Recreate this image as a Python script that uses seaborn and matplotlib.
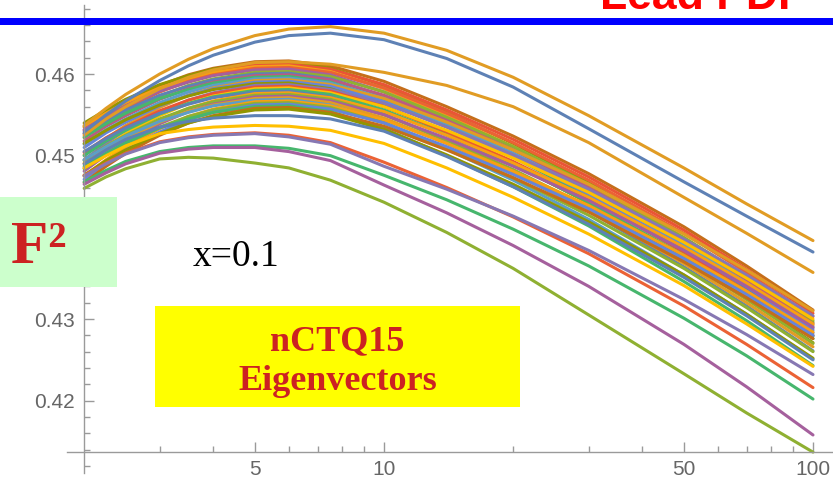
import numpy as np
import pandas as pd
import matplotlib
matplotlib.use("Agg")
import matplotlib.pyplot as plt
import seaborn as sns
from matplotlib.patches import Rectangle
from matplotlib.ticker import FixedLocator, NullFormatter

# ---------------- data ----------------
Q_NODES = [2, 2.25, 2.5, 3, 3.5, 4, 5, 6, 7.5, 10, 14, 20, 30, 50, 70, 100]

top_orange   = [0.4537, 0.4558, 0.4575, 0.4600, 0.4618, 0.4631, 0.4647, 0.4655, 0.4658, 0.4650, 0.4629, 0.4596, 0.4549, 0.4485, 0.4441, 0.4396]
top_blue     = [0.4529, 0.4550, 0.4567, 0.4592, 0.4610, 0.4623, 0.4639, 0.4647, 0.4650, 0.4642, 0.4619, 0.4584, 0.4533, 0.4468, 0.4426, 0.4382]
third_orange = [0.4525, 0.4545, 0.4560, 0.4582, 0.4596, 0.4605, 0.4614, 0.4615, 0.4612, 0.4602, 0.4586, 0.4560, 0.4516, 0.4449, 0.4405, 0.4357]

b01 = [0.4535, 0.4553, 0.4566, 0.4586, 0.4599, 0.4607, 0.4615, 0.4616, 0.4610, 0.4591, 0.4560, 0.4524, 0.4478, 0.4413, 0.4365, 0.4311]
b02 = [0.4540, 0.4556, 0.4569, 0.4587, 0.4598, 0.4606, 0.4613, 0.4614, 0.4607, 0.4586, 0.4553, 0.4515, 0.4467, 0.4399, 0.4351, 0.4296]
b03 = [0.4531, 0.4549, 0.4562, 0.4582, 0.4595, 0.4603, 0.4611, 0.4612, 0.4606, 0.4587, 0.4556, 0.4520, 0.4474, 0.4409, 0.4361, 0.4307]
b04 = [0.4536, 0.4552, 0.4565, 0.4583, 0.4594, 0.4602, 0.4609, 0.4610, 0.4603, 0.4582, 0.4549, 0.4511, 0.4463, 0.4395, 0.4347, 0.4292]
b05 = [0.4527, 0.4545, 0.4558, 0.4578, 0.4591, 0.4599, 0.4607, 0.4608, 0.4602, 0.4583, 0.4552, 0.4516, 0.4470, 0.4405, 0.4357, 0.4303]
b06 = [0.4532, 0.4548, 0.4561, 0.4579, 0.4590, 0.4598, 0.4605, 0.4606, 0.4599, 0.4578, 0.4545, 0.4507, 0.4459, 0.4391, 0.4343, 0.4288]
b07 = [0.4522, 0.4540, 0.4553, 0.4573, 0.4586, 0.4594, 0.4602, 0.4603, 0.4597, 0.4578, 0.4547, 0.4511, 0.4465, 0.4400, 0.4352, 0.4298]
b08 = [0.4527, 0.4543, 0.4556, 0.4574, 0.4585, 0.4593, 0.4600, 0.4601, 0.4594, 0.4573, 0.4540, 0.4502, 0.4454, 0.4386, 0.4338, 0.4283]
b09 = [0.4518, 0.4536, 0.4549, 0.4569, 0.4582, 0.4590, 0.4598, 0.4599, 0.4593, 0.4574, 0.4543, 0.4507, 0.4461, 0.4396, 0.4348, 0.4294]
b10 = [0.4523, 0.4539, 0.4552, 0.4570, 0.4581, 0.4589, 0.4596, 0.4597, 0.4590, 0.4569, 0.4536, 0.4498, 0.4450, 0.4382, 0.4334, 0.4279]
b11 = [0.4514, 0.4532, 0.4545, 0.4565, 0.4578, 0.4586, 0.4594, 0.4595, 0.4589, 0.4570, 0.4539, 0.4503, 0.4457, 0.4392, 0.4344, 0.4290]
b12 = [0.4501, 0.4521, 0.4537, 0.4559, 0.4574, 0.4583, 0.4592, 0.4593, 0.4587, 0.4570, 0.4541, 0.4507, 0.4465, 0.4404, 0.4360, 0.4310]
b13 = [0.4510, 0.4528, 0.4541, 0.4561, 0.4574, 0.4582, 0.4590, 0.4591, 0.4585, 0.4566, 0.4535, 0.4499, 0.4453, 0.4388, 0.4340, 0.4286]
b14 = [0.4515, 0.4531, 0.4544, 0.4562, 0.4573, 0.4581, 0.4588, 0.4589, 0.4582, 0.4561, 0.4528, 0.4490, 0.4442, 0.4374, 0.4326, 0.4271]
b15 = [0.4495, 0.4515, 0.4531, 0.4553, 0.4568, 0.4577, 0.4586, 0.4587, 0.4581, 0.4564, 0.4535, 0.4501, 0.4459, 0.4398, 0.4354, 0.4304]
b16 = [0.4504, 0.4522, 0.4535, 0.4555, 0.4568, 0.4576, 0.4584, 0.4585, 0.4579, 0.4560, 0.4529, 0.4493, 0.4447, 0.4382, 0.4334, 0.4280]
b17 = [0.4491, 0.4511, 0.4527, 0.4549, 0.4564, 0.4573, 0.4582, 0.4583, 0.4577, 0.4560, 0.4531, 0.4497, 0.4455, 0.4394, 0.4350, 0.4300]
b18 = [0.4500, 0.4518, 0.4531, 0.4551, 0.4564, 0.4572, 0.4580, 0.4581, 0.4575, 0.4556, 0.4525, 0.4489, 0.4443, 0.4378, 0.4330, 0.4276]
b19 = [0.4505, 0.4521, 0.4534, 0.4552, 0.4563, 0.4571, 0.4578, 0.4579, 0.4572, 0.4551, 0.4518, 0.4480, 0.4432, 0.4364, 0.4316, 0.4261]
b20 = [0.4485, 0.4505, 0.4521, 0.4543, 0.4558, 0.4567, 0.4576, 0.4577, 0.4571, 0.4554, 0.4525, 0.4491, 0.4449, 0.4388, 0.4344, 0.4294]
b21 = [0.4494, 0.4512, 0.4525, 0.4545, 0.4558, 0.4566, 0.4574, 0.4575, 0.4569, 0.4550, 0.4519, 0.4483, 0.4437, 0.4372, 0.4324, 0.4270]
b22 = [0.4481, 0.4501, 0.4517, 0.4539, 0.4554, 0.4563, 0.4572, 0.4573, 0.4567, 0.4550, 0.4521, 0.4487, 0.4445, 0.4384, 0.4340, 0.4290]
b23 = [0.4490, 0.4508, 0.4521, 0.4541, 0.4554, 0.4562, 0.4570, 0.4571, 0.4565, 0.4546, 0.4515, 0.4479, 0.4433, 0.4368, 0.4320, 0.4266]
b24 = [0.4495, 0.4511, 0.4524, 0.4542, 0.4553, 0.4561, 0.4568, 0.4569, 0.4562, 0.4541, 0.4508, 0.4470, 0.4422, 0.4354, 0.4306, 0.4251]
b25 = [0.4475, 0.4495, 0.4511, 0.4533, 0.4548, 0.4557, 0.4566, 0.4567, 0.4561, 0.4544, 0.4515, 0.4481, 0.4439, 0.4378, 0.4334, 0.4284]
b26 = [0.4484, 0.4502, 0.4515, 0.4535, 0.4548, 0.4556, 0.4564, 0.4565, 0.4559, 0.4540, 0.4509, 0.4473, 0.4427, 0.4362, 0.4314, 0.4260]
b27 = [0.4471, 0.4491, 0.4507, 0.4529, 0.4544, 0.4553, 0.4562, 0.4563, 0.4557, 0.4540, 0.4511, 0.4477, 0.4435, 0.4374, 0.4330, 0.4280]
b28 = [0.4487, 0.4503, 0.4516, 0.4534, 0.4545, 0.4553, 0.4560, 0.4561, 0.4554, 0.4533, 0.4500, 0.4462, 0.4414, 0.4346, 0.4298, 0.4243]
b29 = [0.4467, 0.4487, 0.4503, 0.4525, 0.4540, 0.4549, 0.4558, 0.4559, 0.4553, 0.4536, 0.4507, 0.4473, 0.4431, 0.4370, 0.4326, 0.4276]
b30 = [0.4476, 0.4494, 0.4507, 0.4527, 0.4540, 0.4548, 0.4556, 0.4557, 0.4551, 0.4532, 0.4501, 0.4465, 0.4419, 0.4354, 0.4306, 0.4252]

low_blue    = [0.4490, 0.4507, 0.4520, 0.4535, 0.4542, 0.4546, 0.4549, 0.4549, 0.4545, 0.4530, 0.4499, 0.4462, 0.4416, 0.4351, 0.4304, 0.4250]
low_yellow  = [0.4485, 0.4500, 0.4512, 0.4527, 0.4532, 0.4535, 0.4537, 0.4536, 0.4531, 0.4515, 0.4485, 0.4449, 0.4404, 0.4341, 0.4294, 0.4242]
low_red     = [0.4476, 0.4491, 0.4503, 0.4517, 0.4523, 0.4526, 0.4528, 0.4525, 0.4516, 0.4492, 0.4461, 0.4425, 0.4380, 0.4316, 0.4269, 0.4216]
low_purple  = [0.4475, 0.4490, 0.4502, 0.4516, 0.4522, 0.4525, 0.4527, 0.4523, 0.4514, 0.4487, 0.4459, 0.4426, 0.4384, 0.4324, 0.4281, 0.4232]
low_green   = [0.4468, 0.4482, 0.4493, 0.4505, 0.4510, 0.4512, 0.4512, 0.4509, 0.4500, 0.4476, 0.4446, 0.4410, 0.4365, 0.4301, 0.4255, 0.4202]
low_magenta = [0.4465, 0.4479, 0.4490, 0.4503, 0.4508, 0.4510, 0.4510, 0.4505, 0.4494, 0.4464, 0.4430, 0.4390, 0.4340, 0.4269, 0.4217, 0.4158]
low_olive   = [0.4460, 0.4474, 0.4484, 0.4496, 0.4498, 0.4497, 0.4491, 0.4485, 0.4470, 0.4443, 0.4406, 0.4362, 0.4305, 0.4233, 0.4185, 0.4137]

CURVES = [b01, b02, b03, b04, b05, b06, b07, b08, b09, b10, b11, b12, b13, b14, b15,
          b16, b17, b18, b19, b20, b21, b22, b23, b24, b25, b26, b27, b28, b29, b30,
          low_blue, low_yellow, low_red, low_purple, low_green, low_magenta, low_olive,
          third_orange, top_blue, top_orange]
COLORS = ["#C56E1A", "#929600", "#E95536", "#F89F13", "#EB6235", "#A5609D", "#8FB032", "#5E81B5",
          "#BC5B80", "#47B66D", "#5D9EC7", "#E19C24", "#6685D9", "#929600", "#8778B3", "#E95536",
          "#FFBF00", "#47B66D", "#5E81B5", "#F89F13", "#8FB032", "#A5609D", "#E19C24", "#5D9EC7",
          "#F89F13", "#8FB032", "#6685D9", "#47B66D", "#C56E1A", "#929600",
          "#5E81B5", "#FFBF00", "#EB6235", "#8778B3", "#47B66D", "#A5609D", "#8FB032",
          "#E19C24", "#5E81B5", "#E19C24"]

Y_TICKS = [0.42, 0.43, 0.44, 0.45, 0.46]
Y_LABELS = ["0.42", "0.43", "", "0.45", "0.46"]   # the 0.44 label is covered by the F² box
X_TICKS = [5, 10, 50, 100]
X_LABELS = ["5", "10", "50", "100"]
X_MINOR = [3, 4, 6, 7, 8, 9, 20, 30, 40, 60, 70, 80, 90]

# ---------------- figure ----------------
W, H = 833, 486
sns.set_style("white")
plt.rcParams['font.family'] = ['Liberation Sans', 'DejaVu Sans']

rows = []
names = []
for i, c in enumerate(CURVES):
    name = f"c{i:02d}"
    names.append(name)
    for q, v in zip(Q_NODES, c):
        rows.append({"Q": q, "F2": v, "curve": name})
df = pd.DataFrame(rows)
palette = dict(zip(names, COLORS))

fig = plt.figure(figsize=(W / 100, H / 100), dpi=100)
ax = fig.add_axes([0, 0, 1, 1])
ax.set_xscale("log")
sns.lineplot(data=df, x="Q", y="F2", hue="curve", hue_order=names, palette=palette,
             estimator=None, sort=False, legend=False, linewidth=2.2, ax=ax)
for ln in ax.get_lines():
    ln.set_solid_joinstyle("round")
    ln.set_solid_capstyle("round")

# pixel calibration: Q=10 at x=384, 429 px per decade; F2=0.46 at y=74, 8167 px per unit
ax.set_xlim(10 ** (1 - 384 / 429), 10 ** (1 + (W - 384) / 429))
ax.set_ylim(0.46 - (H - 74) / 8167, 0.46 + 74 / 8167)
ax.set_xlabel("")
ax.set_ylabel("")
ax.grid(False)
ax.set_facecolor("white")

for s in ["top", "right"]:
    ax.spines[s].set_visible(False)
axis_col = "#9a9a9a"
ax.spines["left"].set_position(("data", 2.0))
ax.spines["bottom"].set_position(("data", 0.4137))
ax.spines["left"].set_bounds(0.4111, 0.4685)
ax.spines["bottom"].set_bounds(1.82, 130)
for s in ["left", "bottom"]:
    ax.spines[s].set_color(axis_col)
    ax.spines[s].set_linewidth(1.0)

ax.yaxis.set_major_locator(FixedLocator(Y_TICKS))
ax.set_yticklabels(Y_LABELS)
ax.yaxis.set_minor_locator(FixedLocator([t for t in np.round(np.arange(0.412, 0.4685, 0.002), 3)
                                         if t not in Y_TICKS]))
ax.xaxis.set_major_locator(FixedLocator(X_TICKS))
ax.set_xticklabels(X_LABELS)
ax.xaxis.set_minor_locator(FixedLocator(X_MINOR))
ax.xaxis.set_minor_formatter(NullFormatter())
ax.yaxis.set_minor_formatter(NullFormatter())

ax.tick_params(axis="both", which="both", direction="in", color=axis_col,
               labelcolor="#666666", labelsize=15, width=1.0,
               bottom=True, left=True, top=False, right=False)
ax.tick_params(axis="both", which="major", length=7)
ax.tick_params(axis="both", which="minor", length=4)
ax.tick_params(axis="y", which="major", pad=6.5)
ax.tick_params(axis="x", which="major", pad=6)


def fx(px):
    return px / W


def fy(py):
    return 1 - py / H


# top blue rule and clipped red title
fig.add_artist(Rectangle((0, fy(25.5)), 1, 7.5 / H, transform=fig.transFigure,
                         facecolor="#0000FF", edgecolor="none", zorder=20))
fig.text(fx(600), fy(9), "Lead PDF", color="#FF0000", fontsize=32, fontweight="bold",
         family=["Liberation Sans", "DejaVu Sans"], ha="left", va="baseline", zorder=21)

# green F^2 box
fig.add_artist(Rectangle((0, fy(287)), 117 / W, 90 / H, transform=fig.transFigure,
                         facecolor="#CCFFCC", edgecolor="none", zorder=20))
fig.text(fx(11), fy(263), "F\u00b2", color="#CC2222", fontsize=44, fontweight="bold",
         family=["Liberation Serif", "DejaVu Serif"], ha="left", va="baseline", zorder=21)

# x = 0.1 label
fig.text(fx(193), fy(266), "x=0.1", color="black", fontsize=27,
         family=["Liberation Serif", "DejaVu Serif"], ha="left", va="baseline", zorder=21)

# yellow box
fig.add_artist(Rectangle((fx(155), fy(407)), 365 / W, 101 / H, transform=fig.transFigure,
                         facecolor="#FFFF00", edgecolor="none", zorder=20))
fig.text(fx(337.5), fy(350), "nCTQ15", color="#CC2222", fontsize=26, fontweight="bold",
         family=["Liberation Serif", "DejaVu Serif"], ha="center", va="baseline", zorder=21)
fig.text(fx(337.5), fy(390), "Eigenvectors", color="#CC2222", fontsize=26, fontweight="bold",
         family=["Liberation Serif", "DejaVu Serif"], ha="center", va="baseline", zorder=21)

fig.savefig("out.png", dpi=100)
